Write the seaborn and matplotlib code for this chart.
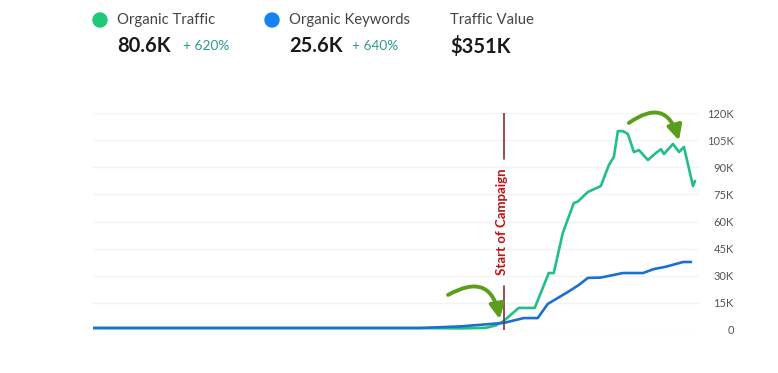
import numpy as np
import pandas as pd
import matplotlib
matplotlib.use("Agg")
import matplotlib.pyplot as plt
from matplotlib.patches import Circle
import seaborn as sns

# --- data (x = time step, y = monthly value) ---
traffic_x = [0, 65.4, 73.4, 78.4, 80.4, 82, 85, 88.2, 91, 92, 93.8, 96, 96.8, 98.8,
             101.4, 103, 104, 104.8, 105.8, 106.8, 108, 109, 110.8, 112.4, 113.4,
             114, 115.8, 117, 118, 119.8, 120.2]
traffic_y = [1100, 1100, 900, 1200, 2500, 5000, 12200, 12200, 31500, 31500, 53600,
             70200, 71000, 76300, 79600, 91200, 95700, 110000, 110000, 108400, 98400,
             99500, 94000, 97900, 100000, 97300, 102900, 98400, 101200, 79600, 82400]

keywords_x = [0, 65.4, 73.4, 82, 86, 88.8, 90.8, 94.8, 97, 98.8, 101.4, 105.8, 109.8,
              112, 114.4, 117.8, 119.4]
keywords_y = [1100, 1100, 2000, 3900, 6600, 6600, 14400, 21000, 24900, 28800, 29000,
              31500, 31500, 33700, 35000, 37600, 37600]

campaign_x = 82
y_ticks = [0, 15000, 30000, 45000, 60000, 75000, 90000, 105000, 120000]
y_tick_labels = ["0", "15K", "30K", "45K", "60K", "75K", "90K", "105K", "120K"]

traffic_df = pd.DataFrame({"step": traffic_x, "value": traffic_y})
keywords_df = pd.DataFrame({"step": keywords_x, "value": keywords_y})

sns.set_style("white")
plt.rcParams['font.family'] = ['Lato', 'DejaVu Sans']

green = "#1fbf86"
blue = "#1a6fd0"

fig = plt.figure(figsize=(7.78, 3.73), dpi=100)
ax = fig.add_axes([93 / 778, 43 / 373, 606 / 778, 217 / 373])

sns.lineplot(data=traffic_df, x="step", y="value", color=green, lw=1.9, ax=ax)
sns.lineplot(data=keywords_df, x="step", y="value", color=blue, lw=1.9, ax=ax)

ax.set_xlim(0, 121)
ax.set_ylim(0, 120000)
ax.set_yticks(y_ticks)
ax.set_yticklabels(y_tick_labels)
ax.yaxis.tick_right()
ax.tick_params(axis="y", length=0, pad=25, labelsize=8, labelcolor="#555555")
for lab in ax.get_yticklabels():
    lab.set_horizontalalignment("right")
ax.set_xticks([])
ax.set_xlabel("")
ax.set_ylabel("")
for s in ax.spines.values():
    s.set_visible(False)
ax.grid(axis="y", color="#f3f3f3", lw=1)
ax.set_axisbelow(True)

# start of campaign marker
ax.plot([campaign_x, campaign_x], [94600, 120000], color="#8b2e2e", lw=1.2)
ax.plot([campaign_x, campaign_x], [0, 24500], color="#8b2e2e", lw=1.2)
ax.text(campaign_x - 0.4, 60000, "Start of Campaign", rotation=90, color="#c01010",
        fontsize=9.5, fontweight="bold", ha="center", va="center")

# hand-drawn style arrows
arrow_kw = dict(arrowstyle="-|>", color="#5a9e1c", lw=2.8, mutation_scale=22,
                shrinkA=0, shrinkB=0)
ax.annotate("", xy=(81.2, 6000), xytext=(70.9, 19400),
            arrowprops=dict(connectionstyle="arc3,rad=-0.7", **arrow_kw))
ax.annotate("", xy=(117.0, 104800), xytext=(107.0, 114500),
            arrowprops=dict(connectionstyle="arc3,rad=-0.7", **arrow_kw))

# header summary
fig.patches.append(Circle((100 / 778 * 7.78, (1 - 20 / 373) * 3.73), 0.07,
                          transform=fig.dpi_scale_trans, color="#1ec97a", figure=fig))
fig.patches.append(Circle((272 / 778 * 7.78, (1 - 20 / 373) * 3.73), 0.07,
                          transform=fig.dpi_scale_trans, color="#1583ef", figure=fig))

def head(x, label, value, delta=None, dx=0):
    fig.text(x / 778, 1 - 20 / 373, label, fontsize=10.7, color="#444444", va="center")
    fig.text(x / 778, 1 - 46 / 373, value, fontsize=14.5, fontweight="bold",
             color="#1a1a1a", va="center")
    if delta:
        fig.text((x + dx) / 778, 1 - 46 / 373, delta, fontsize=9.8, color="#2a9a92",
                 va="center")

head(117, "Organic Traffic", "80.6K", "+ 620%", 66)
head(289, "Organic Keywords", "25.6K", "+ 640%", 63)
head(450, "Traffic Value", "$351K")

fig.savefig("out.png", dpi=100, facecolor="white")
